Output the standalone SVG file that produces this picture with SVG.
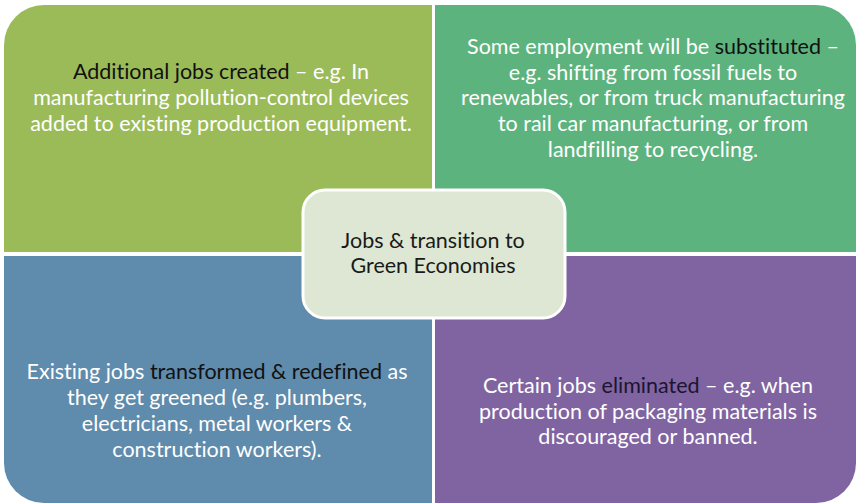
<svg xmlns="http://www.w3.org/2000/svg" width="857" height="504" viewBox="0 0 857 504">
  <style>
    .t { font-family: Lato, "Open Sans", "Liberation Sans", sans-serif; font-size: 21.5px; text-anchor: middle; fill: #ffffff; font-variant-ligatures: none; }
    .d { fill: #111111; }
    .c { font-family: Lato, "Open Sans", "Liberation Sans", sans-serif; font-size: 21.5px; text-anchor: middle; fill: #1a1a1a; font-variant-ligatures: none; }
  </style>
  <rect width="857" height="504" fill="#ffffff"/>

  <g id="created">
    <path d="M4,252 V45 A40,40 0 0 1 44,5 H432 V252 Z" fill="#9bbb59"/>
    <text class="t" x="221" y="79"><tspan class="d">Additional jobs created</tspan> – e.g. In</text>
    <text class="t" x="221" y="105">manufacturing pollution-control devices</text>
    <text class="t" x="221" y="131">added to existing production equipment.</text>
  </g>

  <g id="substituted">
    <path d="M435,5 H816 A40,40 0 0 1 856,45 V252 H435 Z" fill="#5db37e"/>
    <text class="t" x="653" y="54">Some employment will be <tspan class="d">substituted</tspan> –</text>
    <text class="t" x="653" y="80">e.g. shifting from fossil fuels to</text>
    <text class="t" x="653" y="105">renewables, or from truck manufacturing</text>
    <text class="t" x="653" y="131">to rail car manufacturing, or from</text>
    <text class="t" x="653" y="157">landfilling to recycling.</text>
  </g>

  <g id="transformed">
    <path d="M4,256 H432 V503 H44 A40,40 0 0 1 4,463 Z" fill="#5f8bac"/>
    <text class="t" x="217" y="379">Existing jobs <tspan class="d">transformed &amp; redefined</tspan> as</text>
    <text class="t" x="217" y="405">they get greened (e.g. plumbers,</text>
    <text class="t" x="217" y="431">electricians, metal workers &amp;</text>
    <text class="t" x="217" y="457">construction workers).</text>
  </g>

  <g id="eliminated">
    <path d="M435,256 H856 V463 A40,40 0 0 1 816,503 H435 Z" fill="#8064a2"/>
    <text class="t" x="648" y="393">Certain jobs <tspan fill="#1c1530">eliminated</tspan> – e.g. when</text>
    <text class="t" x="648" y="419">production of packaging materials is</text>
    <text class="t" x="648" y="444">discouraged or banned.</text>
  </g>

  <g id="center">
    <rect x="303" y="190" width="262" height="128" rx="22" fill="#dde7d3" stroke="#ffffff" stroke-width="3"/>
    <text class="c" x="433" y="248">Jobs &amp; transition to</text>
    <text class="c" x="433" y="273">Green Economies</text>
  </g>

  <g id="connectors"/>
</svg>
